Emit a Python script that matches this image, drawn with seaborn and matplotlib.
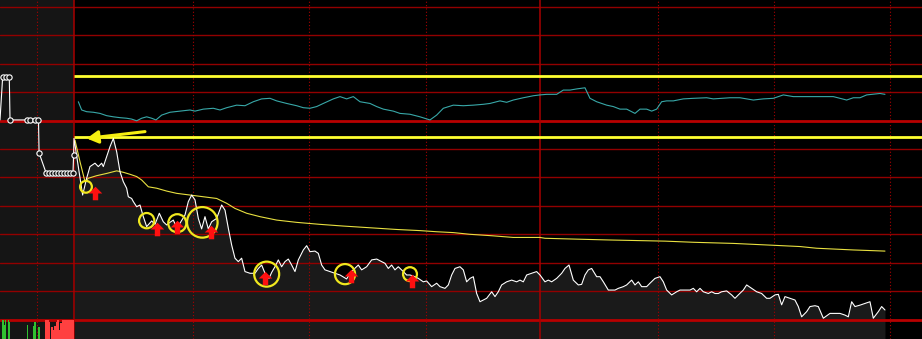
import numpy as np
import pandas as pd
import matplotlib
matplotlib.use("Agg")
import matplotlib.pyplot as plt
import seaborn as sns
from matplotlib.path import Path

sns.set_theme(style="dark")
plt.rcParams['font.family'] = ['DejaVu Sans']

# ---------------- data (time: minutes from 9:30 open, negative = call auction; value: % vs previous close)
auction_t = [-19.07, -18.38, -17.53, -16.68, -16.49, -12.04, -11.34, -10.05, -9.15, -9.0,
             -7.22, -6.44, -5.67, -4.90, -4.12, -3.35, -2.58, -1.80, -1.03, -0.26, -0.1]
auction_pct = [0.02, 1.54, 1.54, 1.54, 0.02, 0.02, 0.02, 0.02, 0.02, -1.14,
               -1.83, -1.83, -1.83, -1.83, -1.83, -1.83, -1.83, -1.83, -1.83, -1.83, -1.21]

price_t = [0, 2.23, 3.26, 4.12, 5.41, 6.27, 7.13, 7.56, 8.42, 9.28,
           10.14, 11.0, 11.86, 12.71, 13.57, 14.0, 14.86, 15.29, 16.15, 17.01,
           17.87, 18.73, 20.02, 20.88, 21.99, 23.02, 23.88, 24.74, 25.6, 26.46,
           27.32, 28.61, 29.47, 30.33, 31.19, 32.04, 32.9, 33.76, 34.62, 35.48,
           36.77, 38.06, 38.92, 39.78, 40.64, 41.49, 42.35, 43.21, 44.07, 45.36,
           46.65, 47.51, 48.37, 49.23, 50.26, 50.95, 51.8, 52.66, 53.52, 54.38,
           55.24, 56.1, 56.96, 57.82, 59.11, 59.97, 60.82, 62.11, 62.97, 63.83,
           64.69, 65.98, 67.27, 68.56, 70.27, 71.13, 71.99, 73.28, 74.14, 75.43,
           76.72, 78.01, 79.3, 80.15, 81.01, 81.87, 82.73, 83.59, 84.88, 85.74,
           86.6, 87.89, 88.75, 90.03, 90.89, 92.18, 93.47, 94.33, 95.62, 96.48,
           97.34, 98.2, 99.48, 100.34, 101.2, 102.06, 102.92, 103.78, 104.64, 105.5,
           106.36, 107.65, 108.51, 109.36, 110.22, 111.51, 112.8, 114.09, 114.95, 115.81,
           116.67, 117.96, 119.24, 120.1, 121.39, 122.25, 123.11, 124.4, 125.69, 126.55,
           127.58, 128.69, 129.98, 130.84, 131.7, 132.56, 133.42, 134.71, 135.57, 136.43,
           137.71, 138.57, 139.43, 140.29, 141.58, 142.44, 143.73, 144.59, 145.45, 146.31,
           147.59, 148.45, 149.74, 151.03, 151.89, 152.75, 154.04, 155.33, 156.19, 157.47,
           158.76, 159.62, 160.48, 161.34, 162.2, 163.49, 164.35, 165.21, 166.07, 166.92,
           168.21, 169.5, 170.36, 171.22, 172.51, 173.37, 174.66, 175.95, 177.23, 178.52,
           179.38, 180.67, 181.53, 182.39, 183.25, 184.54, 185.82, 186.68, 187.54, 188.83,
           189.69, 190.98, 191.84, 193.13, 194.85, 196.13, 197.42, 198.71, 199.57, 200.43,
           201.29, 202.58, 203.87, 205.15, 206.01, 207.3, 208.16, 209.02]
price_pct = [-0.63, -2.62, -2.03, -1.62, -1.50, -1.62, -1.50, -1.62, -1.27, -0.92,
             -0.63, -1.10, -1.80, -2.15, -2.38, -2.68, -2.74, -2.85, -3.03, -2.97,
             -3.38, -3.73, -3.53, -3.65, -3.26, -3.56, -3.67, -3.58, -3.50, -3.77,
             -3.61, -3.32, -2.85, -2.62, -2.79, -3.44, -3.81, -3.38, -3.81, -3.56,
             -3.44, -2.97, -3.15, -3.79, -4.38, -4.84, -4.96, -4.84, -5.31, -5.37,
             -5.37, -5.20, -5.08, -5.37, -5.55, -5.34, -5.14, -4.90, -5.14, -4.96,
             -4.87, -5.08, -5.31, -4.90, -4.55, -4.40, -4.61, -4.59, -4.67, -5.08,
             -5.25, -5.31, -5.37, -5.43, -5.57, -5.37, -5.25, -5.08, -5.25, -5.14,
             -4.90, -4.87, -4.96, -5.02, -5.20, -5.08, -5.25, -5.14, -5.31, -5.43,
             -5.43, -5.49, -5.55, -5.67, -5.64, -5.84, -5.72, -5.84, -5.90, -5.78,
             -5.43, -5.20, -5.14, -5.25, -5.67, -5.55, -5.49, -6.08, -6.37, -6.31,
             -6.25, -6.02, -6.19, -6.02, -5.78, -5.67, -5.61, -5.67, -5.61, -5.67,
             -5.43, -5.37, -5.31, -5.43, -5.67, -5.61, -5.67, -5.55, -5.37, -5.20,
             -5.08, -5.61, -5.78, -5.76, -5.43, -5.25, -5.20, -5.49, -5.49, -5.67,
             -5.96, -5.96, -5.96, -5.90, -5.84, -5.78, -5.61, -5.78, -5.67, -5.84,
             -5.84, -5.72, -5.55, -5.49, -5.67, -5.96, -6.13, -6.02, -5.96, -5.96,
             -5.96, -5.90, -6.02, -5.90, -6.02, -6.08, -6.02, -6.08, -6.08, -6.02,
             -5.99, -6.13, -6.25, -6.13, -5.96, -5.78, -5.90, -6.02, -6.08, -6.25,
             -6.25, -6.13, -6.11, -6.48, -6.19, -6.25, -6.31, -6.54, -6.90, -6.72,
             -6.54, -6.51, -6.54, -6.95, -6.78, -6.78, -6.78, -6.84, -6.90, -6.37,
             -6.54, -6.49, -6.43, -6.37, -6.95, -6.72, -6.54, -6.66]

avg_t = [0.26, 1.55, 2.84, 3.69, 5.84, 8.42, 11.0, 12.71, 14.43, 16.15,
         17.44, 19.16, 21.31, 23.88, 26.46, 29.9, 33.33, 36.77, 39.35, 41.49,
         44.5, 47.94, 52.23, 57.39, 63.4, 69.42, 76.29, 83.16, 89.18, 93.47,
         97.77, 102.06, 107.65, 113.23, 120.1, 121.39, 129.55, 138.14, 152.32, 159.62,
         169.93, 179.38, 187.11, 191.41, 200.86, 209.02]
avg_pct = [-0.69, -1.45, -2.15, -2.03, -1.94, -1.86, -1.77, -1.82, -1.89, -1.97,
           -2.09, -2.33, -2.38, -2.48, -2.56, -2.62, -2.68, -2.74, -2.91, -3.09,
           -3.26, -3.38, -3.50, -3.58, -3.65, -3.71, -3.77, -3.83, -3.87, -3.91,
           -3.94, -4.00, -4.05, -4.11, -4.11, -4.14, -4.17, -4.20, -4.24, -4.28,
           -4.32, -4.38, -4.43, -4.49, -4.55, -4.59]

index_t = [1.12, 1.98, 3.26, 4.98, 6.7, 8.42, 10.14, 11.86, 13.57, 14.86,
           16.15, 17.44, 18.73, 20.02, 21.13, 22.59, 24.74, 27.32, 29.9, 31.19,
           33.33, 35.91, 37.63, 39.35, 41.92, 44.07, 46.22, 48.37, 50.52, 52.23,
           54.81, 57.39, 59.11, 60.82, 62.54, 64.26, 66.84, 68.56, 70.27, 71.99,
           73.71, 76.29, 78.01, 79.73, 82.3, 84.02, 86.6, 89.18, 91.75, 93.47,
           95.19, 97.77, 100.34, 102.92, 105.5, 107.22, 109.79, 111.51, 113.23, 115.81,
           118.38, 120.1, 121.82, 124.4, 126.12, 127.84, 129.55, 131.7, 132.99, 134.71,
           137.29, 139.0, 140.72, 142.44, 144.59, 145.88, 147.59, 148.88, 150.17, 151.46,
           152.75, 154.47, 157.04, 159.62, 163.06, 164.78, 169.07, 171.65, 173.37, 175.09,
           177.66, 180.24, 182.82, 185.39, 188.83, 192.27, 195.7, 199.14, 200.86, 202.58,
           204.3, 207.73, 209.02]
index_pct = [0.66, 0.37, 0.31, 0.29, 0.25, 0.17, 0.13, 0.10, 0.08, 0.05,
             -0.01, 0.08, 0.13, 0.08, 0.02, 0.19, 0.29, 0.33, 0.37, 0.33,
             0.40, 0.43, 0.37, 0.45, 0.54, 0.52, 0.66, 0.76, 0.78, 0.69,
             0.60, 0.52, 0.45, 0.43, 0.49, 0.60, 0.76, 0.84, 0.76, 0.84,
             0.66, 0.60, 0.49, 0.40, 0.33, 0.25, 0.22, 0.13, 0.02, 0.19,
             0.43, 0.54, 0.52, 0.54, 0.57, 0.60, 0.69, 0.64, 0.72, 0.80,
             0.87, 0.90, 0.92, 0.92, 1.07, 1.07, 1.11, 1.15, 0.78, 0.66,
             0.54, 0.49, 0.40, 0.40, 0.25, 0.40, 0.40, 0.33, 0.40, 0.66,
             0.69, 0.69, 0.76, 0.78, 0.80, 0.76, 0.80, 0.80, 0.76, 0.72,
             0.76, 0.78, 0.90, 0.84, 0.84, 0.84, 0.84, 0.72, 0.80, 0.80,
             0.90, 0.95, 0.92]

level_lines = [1.56, -0.58]          # yellow reference levels

ring_t = [3.09, 18.74, 26.62, 33.07, 49.66, 69.85, 86.6]
ring_pct = [-2.33, -3.52, -3.61, -3.58, -5.40, -5.40, -5.40]
buy_t = [5.41, 21.31, 26.47, 35.23, 49.23, 71.39, 87.04]
buy_pct = [-2.56, -3.81, -3.73, -3.91, -5.53, -5.46, -5.64]

arrow_tip = (3.27, -0.63)
arrow_tail = (18.3, -0.39)

vol_up_t = [-18.3, -17.91, -17.53, -16.88, -16.62, -11.86, -10.44, -10.05, -9.02, -0.13]
vol_up = [1900, 1400, 1900, 1900, 1700, 1400, 1300, 1700, 1200, 1900]
vol_dn_t = [-7.22, -6.96, -6.70, -6.19, -5.67, -5.41, -4.90, -4.38, -4.12, -3.61, -3.35,
            -3.09, -2.84, -2.58, -2.32, -2.06, -1.80, -1.29, -1.03, -0.77, -0.52, -0.26]
vol_dn = [1900, 1900, 1900, 1700, 1200, 900, 1300, 1700, 1900, 900, 1600,
          600, 1900, 1900, 1500, 1900, 1900, 1900, 1900, 1900, 1900, 1900]

# ---------------- style
ring_diam_pt = [8.5, 11, 13, 22, 18, 14.5, 10]
XMIN, XMAX = -19.07, 218.56
YMIN, YMAX = -7.68, 4.236
GRID = '#920000'
GRID_STRONG = '#b80000'

fig = plt.figure(figsize=(9.22, 3.39), dpi=100)
fig.patch.set_facecolor('black')
ax = fig.add_axes([0, 0, 1, 1])
ax.set_facecolor('black')
ax.set_xlim(XMIN, XMAX)
ax.set_ylim(YMIN, YMAX)
for s in ax.spines.values():
    s.set_visible(False)
ax.set_xticks([]); ax.set_yticks([])
ax.grid(False)

# auction panel background
ax.axvspan(XMIN, 0, color='#151515', lw=0, zorder=0)
# area under price
ax.fill_between(price_t, price_pct, YMIN, color='#1a1a1a', lw=0, zorder=1)

# grid
for lv in range(-6, 5):
    if lv == 0:
        continue
    ax.axhline(lv, color=GRID, lw=1.0, zorder=2)
ax.axhline(0, color=GRID_STRONG, lw=2.0, zorder=2)
ax.axhline(-7, color=GRID_STRONG, lw=2.0, zorder=2)
for v in [0, 120]:
    ax.axvline(v, color='#a80000', lw=1.1, zorder=2)
for v in [-9.5, 30.7, 60.6, 90.7, 150.4, 180.3, 210.2]:
    ax.axvline(v, color='#a80000', lw=0.8, ls=(0, (1, 2)), zorder=2)

# yellow reference levels
for lv in level_lines:
    ax.plot([0, XMAX], [lv, lv], color='#ffff30', lw=2.0, zorder=3, solid_capstyle='butt')

# lines
df_idx = pd.DataFrame({'t': index_t, 'v': index_pct})
sns.lineplot(data=df_idx, x='t', y='v', ax=ax, color='#38a8a8', lw=0.8, estimator=None, sort=False, zorder=4)
df_avg = pd.DataFrame({'t': avg_t, 'v': avg_pct})
sns.lineplot(data=df_avg, x='t', y='v', ax=ax, color='#e8e040', lw=0.8, estimator=None, sort=False, zorder=4)
df_px = pd.DataFrame({'t': auction_t + price_t, 'v': auction_pct + price_pct})
sns.lineplot(data=df_px, x='t', y='v', ax=ax, color='white', lw=0.8, estimator=None, sort=False, zorder=5)
ax.plot(auction_t[1:], auction_pct[1:], ls='none', marker='o', ms=3.8, mfc='#151515',
        mec='white', mew=0.8, zorder=6)

# annotation rings and buy arrows
ax.scatter(ring_t, ring_pct, s=[d ** 2 for d in ring_diam_pt], facecolors='none',
           edgecolors='#f0e81e', linewidths=1.6, zorder=7)
up_arrow = Path([(-0.2, -0.5), (-0.2, 0.0), (-0.5, 0.0), (0.0, 0.5), (0.5, 0.0),
                 (0.2, 0.0), (0.2, -0.5), (-0.2, -0.5)],
                [Path.MOVETO] + [Path.LINETO] * 6 + [Path.CLOSEPOLY])
ax.scatter(buy_t, buy_pct, marker=up_arrow, s=95, color='#ff1010', linewidths=0, zorder=8)

ax.annotate('', xy=arrow_tip, xytext=arrow_tail,
            arrowprops=dict(arrowstyle='-|>,head_length=0.45,head_width=0.25', color='#f5ee10',
                            lw=2.2, mutation_scale=15, shrinkA=0, shrinkB=0), zorder=9)

# volume pane
axv = fig.add_axes([0, 0, 1, 19.5 / 339])
axv.set_facecolor('none')
axv.set_xlim(XMIN, XMAX)
axv.set_ylim(0, 1950)
for s in axv.spines.values():
    s.set_visible(False)
axv.set_xticks([]); axv.set_yticks([])
axv.grid(False)
axv.bar(vol_up_t, vol_up, width=0.27, color='#30c030', lw=0)
axv.bar(vol_dn_t, vol_dn, width=0.27, color='#ff4040', lw=0)

ax.set_xlabel(''); ax.set_ylabel('')
if ax.get_legend():
    ax.get_legend().remove()

fig.savefig('out.png', dpi=100, facecolor='black')
